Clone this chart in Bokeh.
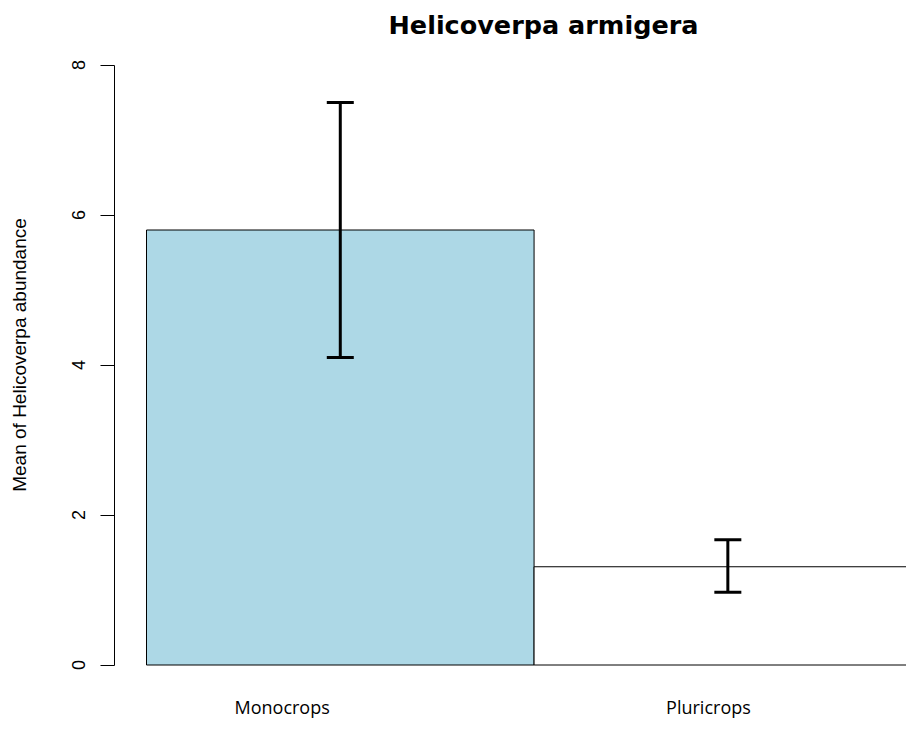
from bokeh.plotting import figure
from bokeh.models import (ColumnDataSource, Whisker, TeeHead, FixedTicker,
                          Range1d, Title)
from bokeh.embed import file_html
from bokeh.resources import INLINE

# ---- data ----
title_text = "Helicoverpa armigera"
groups = ["Monocrops", "Pluricrops"]
means = [5.8, 1.31]
lower = [4.1, 0.97]
upper = [7.5, 1.67]
bar_colors = ["#ADD8E6", "#FFFFFF"]
y_ticks = [0, 2, 4, 6, 8]

centers = [i + 0.5 for i in range(len(groups))]
label_pos = [c - off for c, off in zip(centers, [0.15, 0.05])]

src = ColumnDataSource(dict(x=centers, top=means, lower=lower, upper=upper,
                            color=bar_colors))

W, H = 906, 722
border_bottom = 56
border_top = 43
px_per_unit = 75.0
y_start = -0.02
y_end = y_start + (H - border_bottom - border_top) / px_per_unit

p = figure(width=W, height=H, output_backend="svg", toolbar_location=None,
           x_range=Range1d(-0.0826, 1.961), y_range=Range1d(y_start, y_end),
           min_border_left=114, min_border_right=0, min_border_top=border_top,
           min_border_bottom=border_bottom)
p.title = None
p.outline_line_color = None
p.xgrid.visible = False
p.ygrid.visible = False
p.background_fill_color = "white"

p.vbar(x="x", top="top", bottom=0, width=1.0, source=src,
       fill_color="color", line_color="black", line_width=1)

w = Whisker(source=src, base="x", upper="upper", lower="lower",
            line_width=3, line_color="black", level="overlay",
            upper_head=TeeHead(size=27, line_width=3, line_color="black"),
            lower_head=TeeHead(size=27, line_width=3, line_color="black"))
p.add_layout(w)

# y axis
ya = p.yaxis[0]
ya.ticker = FixedTicker(ticks=y_ticks)
ya.bounds = (y_ticks[0], y_ticks[-1])
ya.minor_tick_line_color = None
ya.major_tick_in = 0
ya.major_tick_out = 14
ya.major_label_orientation = "vertical"
ya.major_label_standoff = 16
ya.major_label_text_font = "Liberation Sans"
ya.major_label_text_font_size = "18px"
ya.major_label_text_color = "black"
ya.axis_line_color = "black"
ya.major_tick_line_color = "black"
ya.axis_label = "Mean of Helicoverpa abundance"
ya.axis_label_text_font = "Liberation Sans"
ya.axis_label_text_font_size = "19px"
ya.axis_label_text_font_style = "normal"
ya.axis_label_text_color = "black"
ya.axis_label_standoff = 39

# x axis (category labels only)
xa = p.xaxis[0]
xa.ticker = FixedTicker(ticks=label_pos)
xa.major_label_overrides = {pos: g for pos, g in zip(label_pos, groups)}
xa.axis_line_color = None
xa.major_tick_line_color = None
xa.minor_tick_line_color = None
xa.major_tick_in = 0
xa.major_tick_out = 0
xa.major_label_standoff = 28
xa.major_label_text_font = "Open Sans"
xa.major_label_text_font_size = "18px"
xa.major_label_text_color = "black"

t = Title(text=title_text, align="left", offset=274,
          text_font="DejaVu Sans", text_font_style="bold",
          text_font_size="25.5px", text_color="black", standoff=8)
p.add_layout(t, "above")

open("out.html", "w").write(file_html(p, INLINE))
